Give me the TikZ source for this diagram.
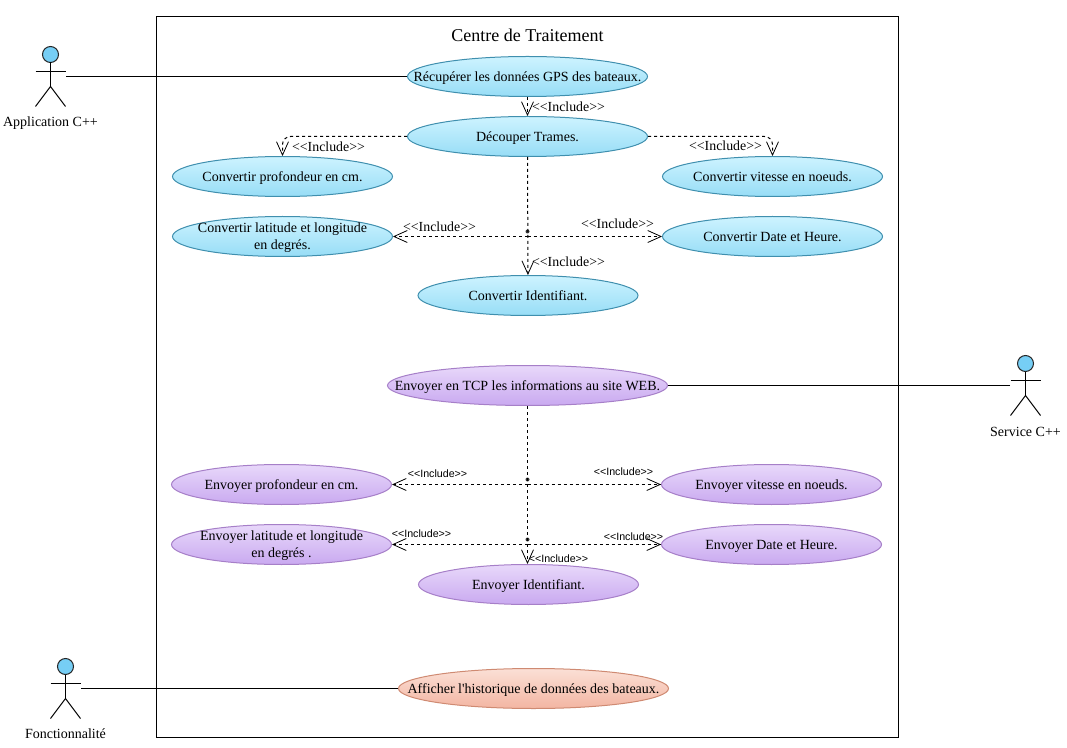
\documentclass[tikz,border=0pt]{standalone}
\usepackage{fontspec}
\setmainfont{Liberation Serif}
\newfontfamily\smallsans{Liberation Sans}
\usetikzlibrary{shapes.geometric, arrows.meta}
\newcommand{\incl}{<{}<Include>{}>}
\definecolor{bluetop}{HTML}{CDF3FF}
\definecolor{bluebot}{HTML}{97DDF6}
\definecolor{blueline}{HTML}{3F8FAE}
\definecolor{violettop}{HTML}{E8D8FA}
\definecolor{violetbot}{HTML}{C9A9F0}
\definecolor{violetline}{HTML}{A67FC8}
\definecolor{rosetop}{HTML}{FBE0D6}
\definecolor{rosebot}{HTML}{F3B5A2}
\definecolor{roseline}{HTML}{CF8A72}
\definecolor{headfill}{HTML}{76CEF5}
\begin{document}
\begin{tikzpicture}[x=0.75pt, y=-0.75pt, line width=0.75pt,
		cas/.style={ellipse, draw, inner xsep=-40pt, inner ysep=-12pt, text depth=0pt, minimum width=165pt, minimum height=30pt, align=center, font=\fontsize{10.5}{12.75}\selectfont},
		casbleu/.style={cas, draw=blueline, top color=bluetop, bottom color=bluebot},
		casviolet/.style={cas, draw=violetline, top color=violettop, bottom color=violetbot},
		casrose/.style={cas, draw=roseline, top color=rosetop, bottom color=rosebot},
		acteur/.style={inner sep=0pt, minimum width=22.5pt, minimum height=45pt},
		nomacteur/.style={inner sep=0pt, font=\fontsize{10.5}{12}\selectfont},
		inclus/.style={inner sep=0pt, font=\fontsize{10.4}{12}\selectfont},
		petitinclus/.style={inner sep=0pt, font=\smallsans\fontsize{8}{9}\selectfont},
		pointe/.style={fill=black!80, circle, inner sep=0pt, minimum size=3pt},
		lien/.style={dashed, dash pattern=on 2.25pt off 2.25pt, -{Straight Barb[length=10pt, width=9pt, line width=0.6pt]}},
		liencoude/.style={lien, rounded corners=6pt, to path={-| (\tikztotarget)}},
		bonhomme/.pic={
			\draw[draw=black!85, fill=headfill] (0,-22) circle[radius=8];
			\draw (0,-14) -- (0,10) (-15,-5) -- (15,-5);
			\draw (-15,30) -- (0,10) -- (15,30);
		}]
	\useasboundingbox (-0.5,-0.5) rectangle (1066.5,747.5);

	\node[draw, inner sep=0pt, minimum width=556.5pt, minimum height=540.75pt] at (527,376.5) (centre) {};
	\node[inner sep=0pt, font=\fontsize{13.5}{15}\selectfont] at (527,35) (titre) {Centre de Traitement};

	% acteurs
	\node[acteur] at (50,76) (app) {};
	\node[acteur] at (1025,385) (service) {};
	\node[acteur] at (65,688) (fonct) {};
	\pic at (app) {bonhomme};
	\pic at (service) {bonhomme};
	\pic at (fonct) {bonhomme};
	\node[nomacteur] at (50,123) (nomapp) {Application C++};
	\node[nomacteur] at (1025,431) (nomservice) {Service C++};
	\node[nomacteur] at (65,733) (nomfonct) {Fonctionnalité};

	% traitement des trames
	\node[casbleu, minimum width=180pt] at (527,76) (recup) {Récupérer les données GPS des bateaux.};
	\node[casbleu, minimum width=180pt] at (527,136) (decoup) {Découper Trames.};
	\node[casbleu] at (282,176) (cprof) {Convertir profondeur en cm.};
	\node[casbleu] at (772,176) (cvit) {Convertir vitesse en noeuds.};
	\node[casbleu] at (282,236) (clat) {Convertir latitude et longitude\\en degrés.};
	\node[casbleu] at (772,236) (cdate) {Convertir Date et Heure.};
	\node[casbleu] at (527.5,295) (cid) {Convertir Identifiant.};

	% envoi vers le site
	\node[casviolet, minimum width=210pt] at (527,385) (tcp) {Envoyer en TCP les informations au site WEB.};
	\node[casviolet] at (281,484) (eprof) {Envoyer profondeur en cm.};
	\node[casviolet] at (771,484) (evit) {Envoyer vitesse en noeuds.};
	\node[casviolet] at (281,544) (elat) {Envoyer latitude et longitude\\en degrés .};
	\node[casviolet] at (771,544) (edate) {Envoyer Date et Heure.};
	\node[casviolet] at (528,584) (eid) {Envoyer Identifiant.};

	\node[casrose, minimum width=202.5pt] at (533,688) (histo) {Afficher l\textquotesingle historique de données des bateaux.};

	% points de jonction
	\coordinate (j1) at (527,236);
	\coordinate (j2) at (527,484);
	\coordinate (j3) at (527,544);
	\node[pointe] at (527,231) (p1) {};
	\node[pointe] at (527,479) (p2) {};
	\node[pointe] at (527,539) (p3) {};

	\path
	(app.east) edge (recup.west)
	(service.west) edge (tcp.east)
	(fonct.east) edge (histo.west)
	(recup) edge[lien] (decoup)
	(decoup.west) edge[liencoude] (cprof.north)
	(decoup.east) edge[liencoude] (cvit.north)
	(decoup) edge[lien] (cid)
	(j1) edge[lien] (clat.east)
	(j1) edge[lien] (cdate.west)
	(tcp) edge[lien] (eid.north -| tcp)
	(j2) edge[lien] (eprof.east)
	(j2) edge[lien] (evit.west)
	(j3) edge[lien] (elat.east)
	(j3) edge[lien] (edate.west);

	\node[inclus] at (568,106) (i1) {\incl};
	\node[inclus] at (328,146) (i2) {\incl};
	\node[inclus] at (725,145) (i3) {\incl};
	\node[inclus] at (439,226) (i4) {\incl};
	\node[inclus] at (617,223) (i5) {\incl};
	\node[inclus] at (568,261) (i6) {\incl};
	\node[petitinclus] at (437,473) (i7) {\incl};
	\node[petitinclus] at (623,471) (i8) {\incl};
	\node[petitinclus] at (421,533) (i9) {\incl};
	\node[petitinclus] at (633,536) (i10) {\incl};
	\node[petitinclus] at (558,558) (i11) {\incl};
\end{tikzpicture}
\end{document}
